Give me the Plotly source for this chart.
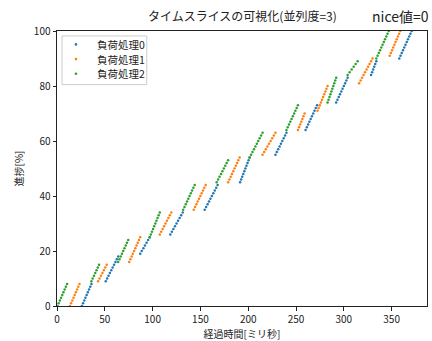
import numpy as np
import plotly.graph_objects as go

# Round-robin time slices of three load processes on one CPU.
# Each slice: start [ms], end [ms], first progress [%], last progress [%].
# One point is recorded per 1 % of progress.
names = ["負荷処理0", "負荷処理1", "負荷処理2"]
colors = ["#1f77b4", "#ff7f0e", "#2ca02c"]

p0_start_ms = [26, 51, 87, 118.5, 154.5, 191.5, 228.5, 260, 292, 328.5, 358]
p0_end_ms = [36, 64, 97, 131.5, 168, 201.5, 240, 272, 304, 334, 371]
p0_first_pct = [0, 9, 19, 26, 35, 45, 55, 64, 74, 84, 90]
p0_last_pct = [8, 18, 25, 34, 44, 54, 63, 73, 83, 89, 100]

p1_start_ms = [13.5, 43, 75.5, 107.5, 143, 179, 215, 252, 272.5, 316, 348]
p1_end_ms = [23.5, 52, 87, 119.5, 155.5, 191, 228.5, 259, 283, 330, 359]
p1_first_pct = [0, 9, 16, 26, 35, 45, 55, 64, 71, 81, 91]
p1_last_pct = [8, 15, 25, 34, 44, 54, 63, 70, 80, 90, 100]

p2_start_ms = [0.5, 36, 64, 97, 132, 167, 201.5, 240, 283, 304, 334]
p2_end_ms = [10.5, 44, 74.5, 107.5, 144, 179, 215, 252, 292, 314.5, 347]
p2_first_pct = [0, 9, 16, 25, 35, 45, 54, 64, 74, 84, 90]
p2_last_pct = [8, 15, 24, 34, 44, 53, 63, 73, 83, 89, 100]

slices = [
    (p0_start_ms, p0_end_ms, p0_first_pct, p0_last_pct),
    (p1_start_ms, p1_end_ms, p1_first_pct, p1_last_pct),
    (p2_start_ms, p2_end_ms, p2_first_pct, p2_last_pct),
]

FONT = "Noto Sans CJK JP"
W, H = 432, 341
MARGIN = dict(l=57, r=4, t=31, b=33)
PLOT_W = W - MARGIN["l"] - MARGIN["r"]
PLOT_H = H - MARGIN["t"] - MARGIN["b"]


def slice_points(starts, ends, firsts, lasts):
    xs, ys = [], []
    for t0, t1, a, b in zip(starts, ends, firsts, lasts):
        pct = np.arange(a, b + 1)
        xs.extend(np.linspace(t0, t1, len(pct)))
        ys.extend(pct)
    return xs, ys


def px_x(px):
    """Pixel offset from the plot's left edge -> paper x."""
    return px / PLOT_W


def px_y(px):
    """Pixel offset from the plot's top edge -> paper y."""
    return 1 - px / PLOT_H


fig = go.Figure()
for name, color, sl in zip(names, colors, slices):
    x, y = slice_points(*sl)
    fig.add_trace(go.Scatter(
        x=x, y=y, mode="markers", name=name, showlegend=False,
        marker=dict(color=color, size=2.5, line=dict(width=0)),
    ))

# Legend box drawn in the upper-left corner of the axes
shapes = [dict(type="rect", xref="paper", yref="paper",
               x0=px_x(5), x1=px_x(90), y0=px_y(54), y1=px_y(5),
               line=dict(color="#cccccc", width=1),
               fillcolor="rgba(255,255,255,0.8)", layer="above")]
annotations = []
r = 1.3
for i, (name, color) in enumerate(zip(names, colors)):
    row = 13.5 + 14.8 * i
    shapes.append(dict(type="circle", xref="paper", yref="paper",
                       x0=px_x(19 - r), x1=px_x(19 + r),
                       y0=px_y(row + r), y1=px_y(row - r),
                       fillcolor=color, line=dict(width=0), layer="above"))
    annotations.append(dict(text=name, xref="paper", yref="paper",
                            x=px_x(38), y=px_y(row), xanchor="left",
                            yanchor="middle", showarrow=False,
                            font=dict(size=10.5, family=FONT, color="#222")))

annotations.append(dict(text="nice値=0", xref="paper", yref="paper",
                        x=1.01, y=1.055, xanchor="right", yanchor="middle",
                        showarrow=False,
                        font=dict(size=14, family=FONT, color="#222")))

axis_common = dict(
    showgrid=False, zeroline=False, showline=True, linecolor="#222",
    linewidth=1, mirror=True, ticks="outside", ticklen=3.5,
    tickcolor="#222", tickfont=dict(family=FONT, size=10, color="#222"),
)

fig.update_layout(
    width=W, height=H,
    margin=MARGIN,
    paper_bgcolor="white", plot_bgcolor="white",
    font=dict(family=FONT, color="#222"),
    showlegend=False,
    title=dict(text="タイムスライスの可視化(並列度=3)", x=0.561, xanchor="center",
               y=0.95, yanchor="middle", font=dict(size=12, family=FONT)),
    xaxis=dict(range=[0, 387], tickvals=[0, 50, 100, 150, 200, 250, 300, 350],
               title=dict(text="経過時間[ミリ秒]", font=dict(size=10, family=FONT),
                          standoff=4),
               **axis_common),
    yaxis=dict(range=[0, 100], tickvals=[0, 20, 40, 60, 80, 100],
               title=dict(text="進捗[%]", font=dict(size=10, family=FONT),
                          standoff=8),
               **axis_common),
    shapes=shapes,
    annotations=annotations,
)

fig.write_html("out.html")
